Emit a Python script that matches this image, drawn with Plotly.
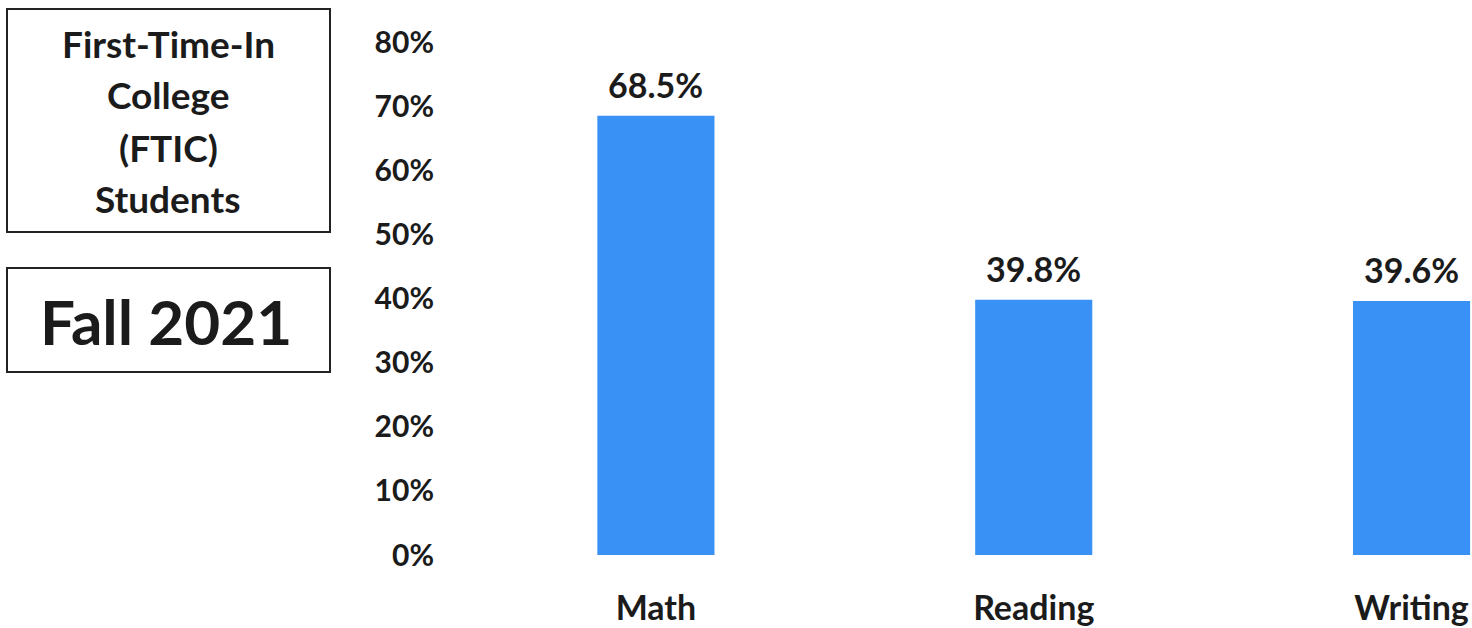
import plotly.graph_objects as go

categories = ["Math", "Reading", "Writing"]
values = [0.685, 0.398, 0.396]
value_labels = ["68.5%", "39.8%", "39.6%"]
tick_vals = [0, 0.1, 0.2, 0.3, 0.4, 0.5, 0.6, 0.7, 0.8]
tick_text = ["0%", "10%", "20%", "30%", "40%", "50%", "60%", "70%", "80%"]
box1_lines = ["First-Time-In", "College", "(FTIC)", "Students"]
box2_text = "Fall 2021"

W, H = 1472, 628
ML, MR, MT, MB = 467, 0, 42, 73
PW, PH = W - ML - MR, H - MT - MB
FONT = "Lato"
TXT = "#1b1b1b"
BAR = "#3991F5"


def px(x):
    return (x - ML) / PW


def py(y):
    return (H - MB - y) / PH


fig = go.Figure()
fig.add_trace(go.Bar(
    x=categories, y=values, width=0.31,
    marker=dict(color=BAR, line=dict(width=0)),
    hoverinfo="skip", cliponaxis=True,
))

for c, v, t in zip(categories, values, value_labels):
    fig.add_annotation(x=c, y=v, text=t, showarrow=False, yanchor="bottom",
                       yshift=9, font=dict(family=FONT, size=34, color=TXT, weight="bold"))

# Box 1
fig.add_shape(type="rect", xref="paper", yref="paper",
              x0=px(7), x1=px(330), y0=py(232), y1=py(9),
              line=dict(color="#222222", width=2), fillcolor="rgba(0,0,0,0)")
for line, yc in zip(box1_lines, [43, 94, 147, 198]):
    fig.add_annotation(xref="paper", yref="paper", x=px(168), y=py(yc), text=line,
                       showarrow=False, xanchor="center", yanchor="middle",
                       font=dict(family=FONT, size=37, color=TXT, weight="bold"))
# Box 2
fig.add_shape(type="rect", xref="paper", yref="paper",
              x0=px(7), x1=px(330), y0=py(372), y1=py(268),
              line=dict(color="#222222", width=2), fillcolor="rgba(0,0,0,0)")
fig.add_annotation(xref="paper", yref="paper", x=px(166), y=py(321), text=box2_text,
                   showarrow=False, xanchor="center", yanchor="middle",
                   font=dict(family=FONT, size=62, color=TXT, weight="bold"))

fig.update_layout(
    width=W, height=H,
    margin=dict(l=ML, r=MR, t=MT, b=MB, autoexpand=False),
    paper_bgcolor="white", plot_bgcolor="white",
    showlegend=False, bargap=0.69,
    xaxis=dict(range=[-0.5, 2.16], showgrid=False, zeroline=False, showline=False,
               ticks="", ticklabelstandoff=30,
               tickfont=dict(family=FONT, size=34, color=TXT, weight="bold")),
    yaxis=dict(range=[0, 0.8], tickvals=tick_vals, ticktext=tick_text,
               showgrid=False, zeroline=False, showline=False, ticks="",
               ticklabelstandoff=32,
               tickfont=dict(family=FONT, size=30, color=TXT, weight="bold")),
)

fig.write_html("out.html")
